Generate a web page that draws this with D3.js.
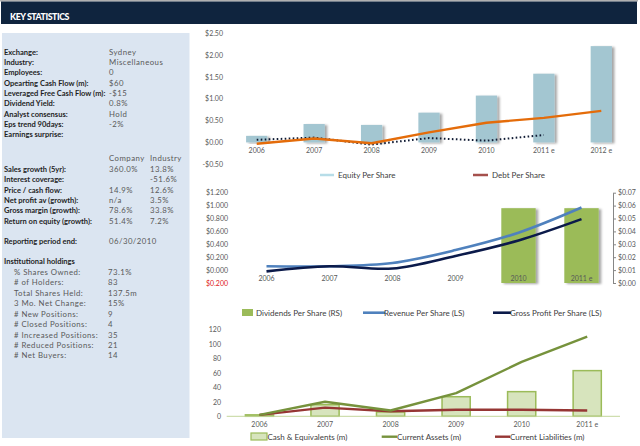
<!DOCTYPE html>
<html><head><meta charset="utf-8">
<script src="https://cdn.jsdelivr.net/npm/d3@7"></script>
<style>
body{margin:0;background:#fff;}
svg{display:block;font-family:Lato,"Liberation Sans",sans-serif;}
</style>
</head><body>
<svg id="c" width="640" height="446"></svg>
<script>
// ---------- Key statistics (left panel) ----------
const statLabels = ["Exchange:","Industry:","Employees:","Opearting Cash Flow (m):","Leveraged Free Cash Flow (m):","Dividend Yield:","Analyst consensus:","Eps trend 90days:","Earnings surprise:"];
const statValues = ["Sydney","Miscellaneous","0","$60","-$15","0.8%","Hold","-2%",""];
const growthHeaders = ["Company","Industry"];
const growthLabels = ["Sales growth (5yr):","Interest coverage:","Price / cash flow:","Net profit av (growth):","Gross margin (growth):","Return on equity (growth):"];
const growthCompany = ["360.0%","","14.9%","n/a","78.6%","51.4%"];
const growthIndustry = ["13.8%","-51.6%","12.6%","3.5%","33.8%","7.2%"];
const reportLabel = "Reporting period end:";
const reportValue = "06/30/2010";
const holdingsTitle = "Institutional holdings";
const holdingLabels = ["% Shares Owned:","# of Holders:","Total Shares Held:","3 Mo. Net Change:","# New Positions:","# Closed Positions:","# Increased Positions:","# Reduced Positions:","# Net Buyers:"];
const holdingValues = ["73.1%","83"," 137.5m","15%","9","4","35","21","14"];

// ---------- Chart 1 ----------
const years1 = ["2006","2007","2008","2009","2010","2011 e","2012 e"];
const equityPerShare = [0.15,0.42,0.40,0.68,1.07,1.57,2.20];
const orangeSeries = [-0.03,0.09,-0.02,0.23,0.45,0.56,0.72];
const dottedSeries = [0.06,0.11,-0.05,0.10,0.04,0.17];
const ticks1 = [-0.5,0,0.5,1,1.5,2,2.5];
const legend1 = ["Equity Per Share","Debt Per Share"];

// ---------- Chart 2 ----------
const years2 = ["2006","2007","2008","2009","2010","2011 e"];
const dividendsPerShare = [null,null,null,null,0.058,0.058];
const revenuePerShare = [0.06,0.06,0.11,0.31,0.58,0.97];
const grossProfitPerShare = [-0.02,0.06,0.025,0.22,0.46,0.79];
const ticks2L = [-0.2,0,0.2,0.4,0.6,0.8,1.0,1.2];
const ticks2R = [0,0.01,0.02,0.03,0.04,0.05,0.06,0.07];
const legend2 = ["Dividends Per Share (RS)","Revenue Per Share (LS)","Gross Profit Per Share (LS)"];

// ---------- Chart 3 ----------
const years3 = ["2006","2007","2008","2009","2010","2011 e"];
const cashEquivalents = [2,16,6,27,34,63];
const currentAssets = [2,20,8,32,75,110];
const currentLiabilities = [2,12,7,9,9,8];
const ticks3 = [0,20,40,60,80,100,120];
const legend3 = ["Cash & Equivalents (m)","Current Assets (m)","Current Liabilities (m)"];

const svg = d3.select("#c");
const defs = svg.append("defs");
const f = defs.append("filter").attr("id","sh").attr("x","-30%").attr("y","-10%").attr("width","170%").attr("height","130%");
f.append("feDropShadow").attr("dx",2.5).attr("dy",1).attr("stdDeviation",0.9).attr("flood-color","#000").attr("flood-opacity",0.35);

const tickColor = "#595959", legColor = "#404040";

// Header
svg.append("rect").attr("x",0).attr("y",0).attr("width",638).attr("height",1.5).attr("fill","#b0b0b0");
svg.append("rect").attr("x",1).attr("y",1.5).attr("width",636).attr("height",22.5).attr("fill","#0f243e");
svg.append("text").attr("x",10).attr("y",20).attr("fill","#fff").attr("font-weight","900")
  .attr("font-size",8.8).attr("letter-spacing",-0.45).text("KEY STATISTICS");

// Left panel
svg.append("rect").attr("x",2).attr("y",33).attr("width",187.5).attr("height",405).attr("fill","#dbe5f1");
const lp = svg.append("g");
const labCol = "#1f1f1f", valCol = "#595959";
function lab(x,y,t,bold,col){
  lp.append("text").attr("x",x).attr("y",y+2.8).attr("fill",col||labCol)
    .attr("font-size",bold?7.55:7.8)
    .attr("letter-spacing",bold?0:0.45)
    .attr("font-weight",bold?"bold":"normal").text(t);
}
const step = 10.37;
statLabels.forEach((t,i)=>{ lab(4,51.7+i*step,t,true); lab(109,51.7+i*step,statValues[i],false,valCol); });
lab(109,158.5,growthHeaders[0],false,valCol); lab(150,158.5,growthHeaders[1],false,valCol);
growthLabels.forEach((t,i)=>{ const y=169+i*step; lab(4,y,t,true); lab(109,y,growthCompany[i],false,valCol); lab(150,y,growthIndustry[i],false,valCol); });
lab(4,241.5,reportLabel,true); lab(109,241.5,reportValue,false,valCol);
lab(4,261.5,holdingsTitle,true);
holdingLabels.forEach((t,i)=>{ const y=272+i*10.45; lab(14,y,t,false,valCol); lab(108,y,holdingValues[i],false,valCol); });

function money2(v){ return (v<0?"-":"")+"$"+Math.abs(v).toFixed(2); }

// ---------- Chart 1 ----------
{
  const g = svg.append("g");
  const pin = 0.63;
  const x = d3.scaleBand().domain(years1).range([228,630]).paddingInner(pin).paddingOuter(pin/2);
  const y = d3.scaleLinear().domain([-0.5,2.5]).range([164.3,33]);
  const ax = g.append("g").attr("transform","translate(223,0)")
    .call(d3.axisLeft(y).tickValues(ticks1).tickSize(0).tickPadding(0).tickFormat(money2));
  ax.select(".domain").remove();
  ax.selectAll("text").attr("fill",tickColor).attr("font-size",7).attr("font-family","Lato");
  g.append("g").selectAll("rect").data(equityPerShare).join("rect")
    .attr("x",(d,i)=>x(years1[i])).attr("width",x.bandwidth())
    .attr("y",d=>y(d)).attr("height",d=>y(0)-y(d))
    .attr("fill","#a3c6d1").attr("filter","url(#sh)");
  const cx = i=>x(years1[i])+x.bandwidth()/2;
  const line = d3.line().x((d,i)=>cx(i)).y(d=>y(d));
  g.append("path").datum(dottedSeries).attr("d",line).attr("fill","none")
    .attr("stroke","#0f1a33").attr("stroke-width",2).attr("stroke-dasharray","1.6,2.4");
  g.append("path").datum(orangeSeries).attr("d",line).attr("fill","none")
    .attr("stroke","#e46c0a").attr("stroke-width",2.4).attr("stroke-linejoin","round");
  const bx = g.append("g").attr("transform",`translate(0,${y(0)})`)
    .call(d3.axisBottom(x).tickSize(0).tickPadding(6));
  bx.select(".domain").remove();
  bx.selectAll("text").attr("fill",tickColor).attr("font-size",7).attr("font-family","Lato");
  const lg = g.append("g").attr("font-size",8).attr("fill",legColor);
  lg.append("line").attr("x1",320).attr("x2",334).attr("y1",175).attr("y2",175).attr("stroke","#b7dde8").attr("stroke-width",2.5);
  lg.append("text").attr("x",338).attr("y",177.8).text(legend1[0]);
  lg.append("line").attr("x1",473).attr("x2",488).attr("y1",175).attr("y2",175).attr("stroke","#a5504c").attr("stroke-width",2.5);
  lg.append("text").attr("x",492).attr("y",177.8).text(legend1[1]);
}

// ---------- Chart 2 ----------
{
  const g = svg.append("g");
  const x = d3.scaleBand().domain(years2).range([235,613]).paddingInner(0.454).paddingOuter(0.227);
  const yL = d3.scaleLinear().domain([-0.2,1.2]).range([283,192.7]);
  const yR = d3.scaleLinear().domain([0,0.07]).range([283,192.7]);
  const axL = g.append("g").attr("transform","translate(228,0)")
    .call(d3.axisLeft(yL).tickValues(ticks2L).tickSize(0).tickPadding(0)
      .tickFormat(v=>"$"+Math.abs(v).toFixed(3)));
  axL.select(".domain").remove();
  axL.selectAll("text").attr("font-size",7).attr("font-family","Lato")
    .attr("fill",d=>d<0?"#e0201b":tickColor);
  g.append("g").selectAll("rect").data(dividendsPerShare.map((d,i)=>({d,i})).filter(o=>o.d!=null)).join("rect")
    .attr("x",o=>x(years2[o.i])).attr("width",x.bandwidth())
    .attr("y",o=>yR(o.d)).attr("height",o=>yR(0)-yR(o.d))
    .attr("fill","#9bbb59").attr("filter","url(#sh)");
  const cx = i=>x(years2[i])+x.bandwidth()/2;
  const line = d3.line().x((d,i)=>cx(i)).y(d=>yL(d)).curve(d3.curveCatmullRom.alpha(0.5));
  g.append("path").datum(revenuePerShare).attr("d",line).attr("fill","none")
    .attr("stroke","#4f81bd").attr("stroke-width",2.6);
  g.append("path").datum(grossProfitPerShare).attr("d",line).attr("fill","none")
    .attr("stroke","#0b1a4a").attr("stroke-width",2.6);
  const bx = g.append("g").attr("transform",`translate(0,${yL(0)})`)
    .call(d3.axisBottom(x).tickSize(0).tickPadding(6));
  bx.select(".domain").remove();
  bx.selectAll("text").attr("fill",tickColor).attr("font-size",7).attr("font-family","Lato");
  const axR = g.append("g").attr("transform","translate(613,0)")
    .call(d3.axisRight(yR).tickValues(ticks2R).tickSizeInner(3).tickSizeOuter(0).tickPadding(2)
      .tickFormat(v=>"$"+v.toFixed(2)));
  axR.select(".domain").attr("stroke","#868686");
  axR.selectAll("line").attr("stroke","#868686");
  axR.selectAll("text").attr("fill",tickColor).attr("font-size",7).attr("font-family","Lato");
  const lg = g.append("g").attr("font-size",8).attr("fill",legColor);
  lg.append("rect").attr("x",242).attr("y",309).attr("width",11).attr("height",7).attr("fill","#9bbb59");
  lg.append("text").attr("x",256).attr("y",315.5).text(legend2[0]);
  lg.append("line").attr("x1",363).attr("x2",385).attr("y1",312.7).attr("y2",312.7).attr("stroke","#4f81bd").attr("stroke-width",2.6);
  lg.append("text").attr("x",384).attr("y",315.5).text(legend2[1]);
  lg.append("line").attr("x1",493).attr("x2",511).attr("y1",312.7).attr("y2",312.7).attr("stroke","#0b1a4a").attr("stroke-width",2.6);
  lg.append("text").attr("x",510).attr("y",315.5).text(legend2[2]);
}

// ---------- Chart 3 ----------
{
  const g = svg.append("g");
  const x = d3.scaleBand().domain(years3).range([226.7,620]).paddingInner(0.57).paddingOuter(0.285);
  const y = d3.scaleLinear().domain([0,120]).range([416.3,329.3]);
  const ax = g.append("g").attr("transform","translate(221,0)")
    .call(d3.axisLeft(y).tickValues(ticks3).tickSize(0).tickPadding(0));
  ax.select(".domain").remove();
  ax.selectAll("text").attr("fill",tickColor).attr("font-size",7).attr("font-family","Lato");
  g.append("g").selectAll("rect").data(cashEquivalents).join("rect")
    .attr("x",(d,i)=>x(years3[i])).attr("width",x.bandwidth())
    .attr("y",d=>y(d)).attr("height",d=>y(0)-y(d))
    .attr("fill","#d7e4bd").attr("stroke","#9bbb59").attr("stroke-width",1.5);
  g.append("line").attr("x1",226.7).attr("x2",620).attr("y1",y(0)).attr("y2",y(0))
    .attr("stroke","#c3d69b").attr("stroke-width",1);
  const cx = i=>x(years3[i])+x.bandwidth()/2;
  const line = d3.line().x((d,i)=>cx(i)).y(d=>y(d));
  g.append("path").datum(currentLiabilities).attr("d",line).attr("fill","none")
    .attr("stroke","#963634").attr("stroke-width",2.4).attr("stroke-linejoin","round");
  g.append("path").datum(currentAssets).attr("d",line).attr("fill","none")
    .attr("stroke","#76923c").attr("stroke-width",2.4).attr("stroke-linejoin","round");
  const bx = g.append("g").attr("transform",`translate(0,${y(0)})`)
    .call(d3.axisBottom(x).tickSize(0).tickPadding(6));
  bx.select(".domain").remove();
  bx.selectAll("text").attr("fill",tickColor).attr("font-size",7).attr("font-family","Lato");
  const lg = g.append("g").attr("font-size",8).attr("fill",legColor);
  lg.append("rect").attr("x",251).attr("y",433).attr("width",16).attr("height",7)
    .attr("fill","#d7e4bd").attr("stroke","#9bbb59").attr("stroke-width",1.2);
  lg.append("text").attr("x",267.5).attr("y",439.5).text(legend3[0]);
  lg.append("line").attr("x1",381.7).attr("x2",397).attr("y1",436.7).attr("y2",436.7).attr("stroke","#76923c").attr("stroke-width",2.4);
  lg.append("text").attr("x",397).attr("y",439.5).text(legend3[1]);
  lg.append("line").attr("x1",495).attr("x2",510).attr("y1",436.7).attr("y2",436.7).attr("stroke","#963634").attr("stroke-width",2.4);
  lg.append("text").attr("x",510).attr("y",439.5).text(legend3[2]);
}
</script>
</body></html>
